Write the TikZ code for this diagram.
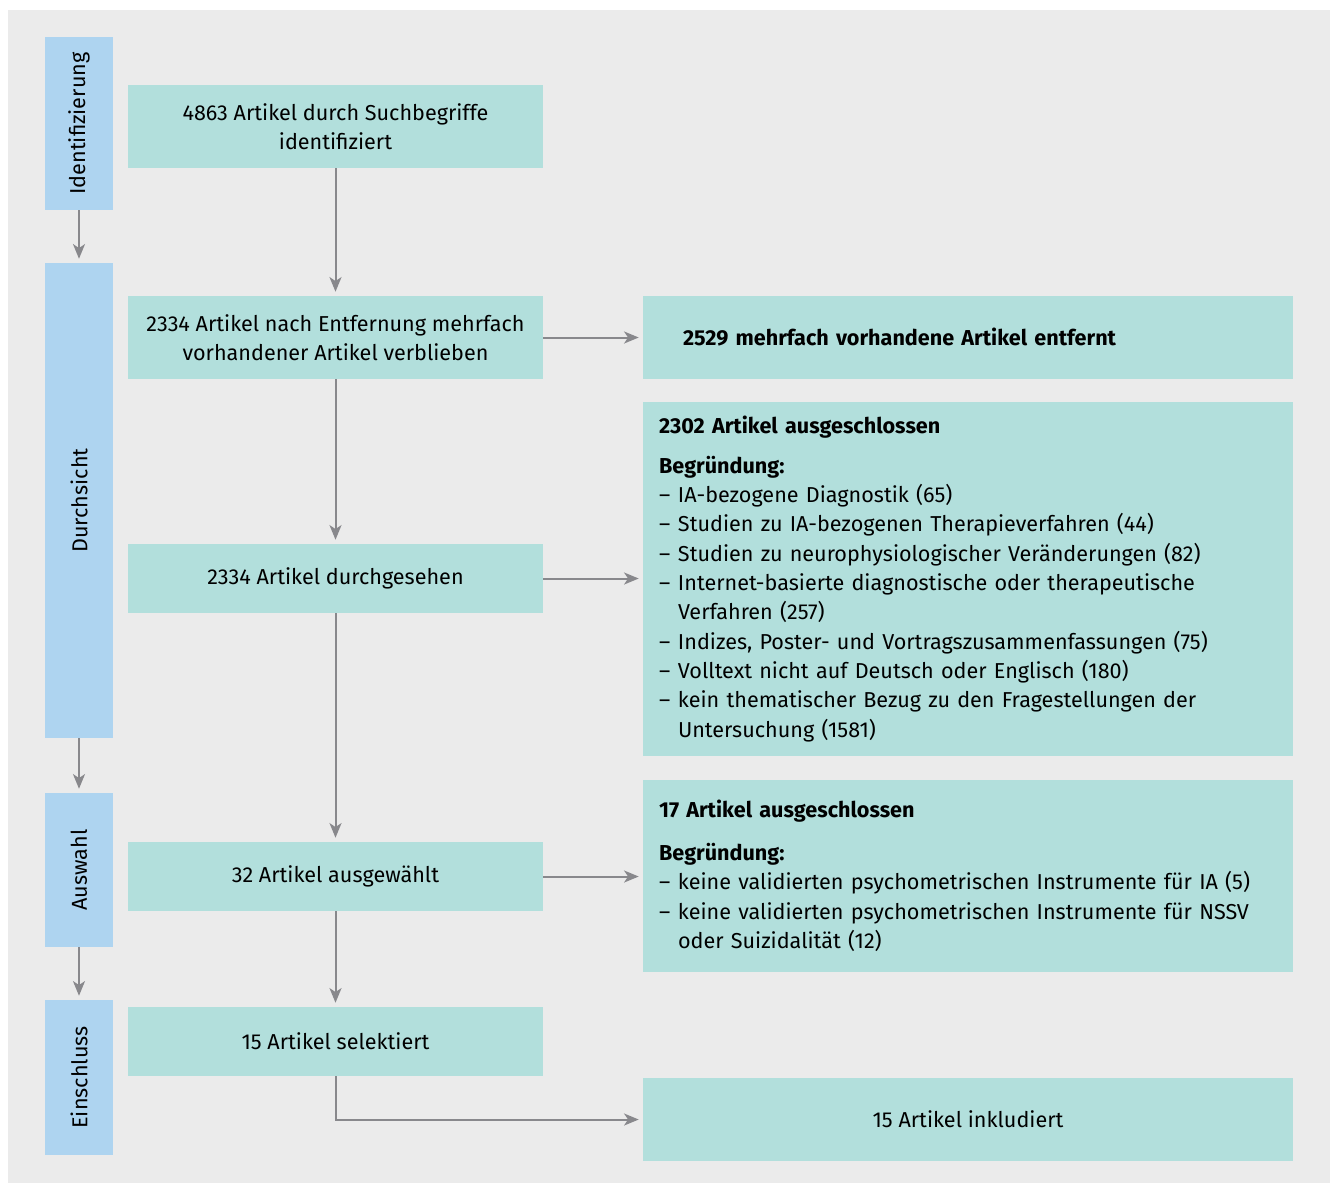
\documentclass[tikz,border=0pt]{standalone}
\usepackage{fontspec}
\setmainfont{Fira Sans}
\usetikzlibrary{arrows.meta}
\definecolor{bgpanel}{RGB}{235,235,235}
\definecolor{tealbox}{RGB}{178,223,220}
\definecolor{bluebox}{RGB}{174,212,240}
\definecolor{arrowgray}{RGB}{136,136,140}
\def\p{0.75pt}
\newcommand{\itm}[1]{\makebox[14.25pt][l]{–}#1}
\newcommand{\cnt}[1]{\hspace*{14.25pt}#1}
\begin{document}
\begin{tikzpicture}[x=0.75pt,y=-0.75pt,
  every node/.style={font=\fontsize{16.2}{22}\selectfont, text=black, inner sep=0pt},
  leftbox/.style={fill=tealbox, minimum width=415*\p, align=center},
  rightbox/.style={fill=tealbox, minimum width=650*\p, text width=618*\p, align=left},
  sidebox/.style={fill=bluebox, minimum width=68*\p},
  sidetext/.style={rotate=90},
  flow/.style={draw=arrowgray, line width=1.5pt, -{Stealth[length=11pt,width=9pt,inset=3pt]}, shorten >=3pt}
]
\useasboundingbox (0,0) rectangle (1333,1183);
\fill[white] (0,0) rectangle (1333,1183);
\fill[bgpanel] (8,10) rectangle (1330,1183);

% side phase boxes
\node[sidebox, minimum height=173*\p] (s1) at (79,123.5) {};
\node[sidetext] (s1t) at (s1.center) {Identifizierung};
\node[sidebox, minimum height=475*\p] (s2) at (79,500.5) {};
\node[sidetext] (s2t) at (s2.center) {Durchsicht};
\node[sidebox, minimum height=154*\p] (s3) at (79,870) {};
\node[sidetext] (s3t) at (s3.center) {Auswahl};
\node[sidebox, minimum height=155*\p] (s4) at (79,1077.5) {};
\node[sidetext] (s4t) at (s4.center) {Einschluss};

% left column
\node[leftbox, minimum height=83*\p] (b1) at (335.5,126.5) {4863 Artikel durch Suchbegriffe\\identifiziert};
\node[leftbox, minimum height=83*\p] (b2) at (335.5,337.5) {2334 Artikel nach Entfernung mehrfach\\vorhandener Artikel verblieben};
\node[leftbox, minimum height=69*\p] (b3) at (335.5,578.5) {2334 Artikel durchgesehen};
\node[leftbox, minimum height=69*\p] (b4) at (335.5,876.5) {32 Artikel ausgewählt};
\node[leftbox, minimum height=69*\p] (b5) at (335.5,1041.5) {15 Artikel selektiert};

% right column
\node[rightbox, minimum height=83*\p, text width=570*\p] (r1) at (968,337.5) {\textbf{2529 mehrfach vorhandene Artikel entfernt}};
\node[rightbox, minimum height=354*\p] (r2) at (968,579) {\textbf{2302 Artikel ausgeschlossen}\\[7.5pt]
\textbf{Begründung:}\\
\itm{IA-bezogene Diagnostik (65)}\\
\itm{Studien zu IA-bezogenen Therapieverfahren (44)}\\
\itm{Studien zu neurophysiologischer Veränderungen (82)}\\
\itm{Internet-basierte diagnostische oder therapeutische}\\
\cnt{Verfahren (257)}\\
\itm{Indizes, Poster- und Vortragszusammenfassungen (75)}\\
\itm{Volltext nicht auf Deutsch oder Englisch (180)}\\
\itm{kein thematischer Bezug zu den Fragestellungen der}\\
\cnt{Untersuchung (1581)}};
\node[rightbox, minimum height=192*\p] (r3) at (968,876) {\textbf{17 Artikel ausgeschlossen}\\[10pt]
\textbf{Begründung:}\\
\itm{keine validierten psychometrischen Instrumente für IA (5)}\\
\itm{keine validierten psychometrischen Instrumente für NSSV}\\
\cnt{oder Suizidalität (12)}};
\node[fill=tealbox, minimum width=650*\p, minimum height=83*\p] (r4) at (968,1119.5) {15 Artikel inkludiert};

% connectors
\draw[flow] (s1) -- (s2);
\draw[flow] (s2) -- (s3);
\draw[flow] (s3) -- (s4);
\draw[flow] (b1) -- (b2);
\draw[flow] (b2) -- (b3);
\draw[flow] (b3) -- (b4);
\draw[flow] (b4) -- (b5);
\draw[flow] (b2) -- (r1);
\draw[flow] (b3) -- (r2.west |- b3);
\draw[flow] (b4) -- (r3.west |- b4);
\draw[flow] (b5.south) |- (r4.west);
\end{tikzpicture}
\end{document}
